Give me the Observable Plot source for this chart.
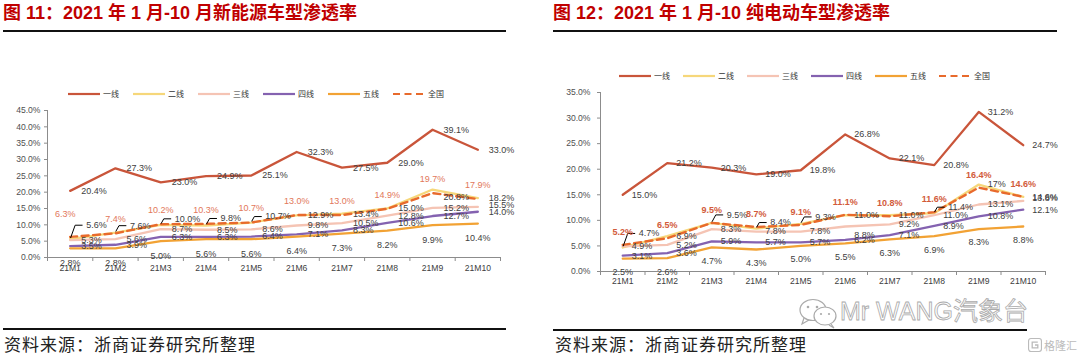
<!DOCTYPE html>
<html><head><meta charset="utf-8">
<script src="https://cdn.jsdelivr.net/npm/d3@7"></script>
<script src="https://cdn.jsdelivr.net/npm/@observablehq/plot@0.6"></script>
<style>
html,body{margin:0;padding:0;background:#fff}
body{width:1080px;height:359px;position:relative;overflow:hidden;font-family:"Liberation Sans","Noto Sans CJK SC",sans-serif}
.a{position:absolute;white-space:nowrap}
.title{font-family:"Liberation Sans","Noto Sans CJK SC",sans-serif;font-weight:bold;font-size:18px;color:#C00000;line-height:20px}
.rule{height:2px;background:#111}
.caption{font-family:"Noto Sans CJK SC",sans-serif;font-size:17px;color:#222;line-height:20px;letter-spacing:1px}
.leg{font-family:"Noto Sans CJK SC",sans-serif;font-size:8px;color:#333;display:flex;align-items:center;line-height:10px}
.leg svg{margin-right:3px}
.wm{font-family:"Liberation Sans","Noto Sans CJK SC",sans-serif;font-size:25px;color:rgba(255,255,255,0.5);-webkit-text-stroke:0.8px #aaa;line-height:30px}
.logo{font-family:"Noto Sans CJK SC",sans-serif;font-size:11px;color:#bbb;line-height:16px;display:flex;align-items:center}
</style></head><body>
<script>
// ---------- data ----------
const months = ["21M1","21M2","21M3","21M4","21M5","21M6","21M7","21M8","21M9","21M10"];
const tierNames = ["一线","二线","三线","四线","五线","全国"];
const tierColors = ["#C9553A","#F6D77A","#F5C4B4","#8462B0","#F2A234","#E86A2C"];
const yTicksNev = [0,5,10,15,20,25,30,35,40,45];
const yTicksBev = [0,5,10,15,20,25,30,35];

// 新能源车型渗透率 (%)
const nevTier1 = [20.4,27.3,23.0,24.9,25.1,32.3,27.5,29.0,39.1,33.0];
const nevTier2 = [5.6,7.6,10.0,9.8,10.7,12.9,13.4,15.0,20.8,18.2];
const nevTier3 = [5.3,5.6,8.7,8.5,8.6,9.8,10.5,12.8,15.2,15.5];
const nevTier4 = [3.5,3.9,6.3,6.3,6.4,7.1,8.3,10.6,12.7,14.0];
const nevTier5 = [2.8,2.8,5.0,5.6,5.6,6.4,7.3,8.2,9.9,10.4];
const nevNational = [6.3,7.4,10.2,10.3,10.7,13.0,13.0,14.9,19.7,17.9];

// 纯电动车型渗透率 (%)
const bevTier1 = [15.0,21.2,20.3,19.0,19.8,26.8,22.1,20.8,31.2,24.7];
const bevTier2 = [4.7,6.9,9.5,8.4,9.3,11.0,11.0,11.4,17,14.6];
const bevTier3 = [4.9,5.2,8.3,7.8,7.8,8.8,9.2,11.0,13.1,13.8];
const bevTier4 = [3.1,3.6,5.9,5.7,5.7,6.2,7.1,8.9,10.8,12.1];
const bevTier5 = [2.5,2.6,4.7,4.3,5.0,5.5,6.3,6.9,8.3,8.8];
const bevNational = [5.2,6.5,9.5,8.7,9.1,11.1,10.8,11.6,16.4,14.6];
const bevLabelText = [{s:1, i:8, text:"17%"}];

// ---------- layout / style ----------
const panels = [
  {
    left:0, title:"图 11：2021 年 1 月-10 月新能源车型渗透率", titleX:3, ruleW:503,
    legX:68, legStep:65, legY:94,
    top:100, height:180, mt:10, mb:23, ml:47, mr:40, yTicks:yTicksNev, yPad:4, xPad:7,
    series:[nevTier1,nevTier2,nevTier3,nevTier4,nevTier5,nevNational],
    natColor:"#E2775A", natWeight:"normal", rightDx:11, belowDy:14.5, aboveDy:-14,
    leaders:[{s:1,i:0,lift:14},{s:1,i:1,lift:7},{s:1,i:2,lift:6},{s:1,i:3,lift:7},{s:1,i:4,lift:6}],
    nudges:[{s:5,i:0,dx:-5,dy:-9},{s:1,i:8,dx:0,dy:8},{s:2,i:9,dx:0,dy:-2}],
    texts:[], bottomY:328, bottomW:503, captionX:4
  },
  {
    left:540, title:"图 12：2021 年 1 月-10 纯电动车型渗透率", titleX:13, ruleW:504,
    legX:79, legStep:64, legY:76,
    top:85, height:205, mt:7, mb:19, ml:60, mr:35, yTicks:yTicksBev, yPad:7, xPad:6,
    series:[bevTier1,bevTier2,bevTier3,bevTier4,bevTier5,bevNational],
    natColor:"#D25B3B", natWeight:"bold", rightDx:9, belowDy:13.5, aboveDy:-13,
    leaders:[{s:1,i:0,lift:14},{s:1,i:2,lift:8},{s:1,i:3,lift:6},{s:1,i:4,lift:7},{s:1,i:7,lift:6}],
    nudges:[{s:2,i:5,dx:0,dy:9},{s:2,i:9,dx:0,dy:-3}],
    texts:bevLabelText, bottomY:329, bottomW:474, captionX:15
  }
];

const fmt = v => v.toFixed(1) + "%";

function add(cls, css, html) {
  const d = document.createElement("div");
  d.className = "a " + cls;
  for (const k in css) d.style[k] = css[k];
  if (html != null) d.innerHTML = html;
  document.body.appendChild(d);
  return d;
}

function drawPanel(p) {
  add("title", {left:(p.left+p.titleX)+"px", top:"3px"}, p.title);
  add("rule", {left:(p.left+p.titleX)+"px", top:"30px", width:p.ruleW+"px"});
  tierNames.forEach((name,k) => {
    const dash = k === 5 ? 'stroke-dasharray="7,4.5"' : '';
    add("leg", {left:(p.left+p.legX+k*p.legStep)+"px", top:(p.legY-5)+"px"},
      `<svg width="32" height="4"><line x1="0" y1="2" x2="32" y2="2" stroke="${tierColors[k]}" stroke-width="2.2" ${dash}/></svg>${name}`);
  });

  const W = 540, H = p.height;
  const plotW = W - p.ml - p.mr, plotH = H - p.mt - p.mb;
  const ymax = p.yTicks[p.yTicks.length-1];
  const ux = 10 / plotW, uy = ymax / plotH;

  const marks = [];
  // axes
  marks.push(Plot.ruleX([-0.5], {y1:0, y2:ymax, stroke:"#8c8c8c", strokeWidth:1}));
  marks.push(Plot.ruleY([0], {x1:-0.5, x2:9.5, stroke:"#8c8c8c", strokeWidth:1}));
  marks.push(Plot.axisY({ticks:p.yTicks, tickFormat:d=>d.toFixed(1)+"%", tickSize:3, tickPadding:p.yPad, stroke:"#8c8c8c", fill:"#505050", fontSize:8.6, label:null}));
  marks.push(Plot.axisX({ticks:d3.range(-0.5,10,1), tickFormat:()=>"", tickSize:4, stroke:"#8c8c8c", label:null}));
  marks.push(Plot.axisX({ticks:d3.range(0,10), tickFormat:i=>months[i], tickSize:0, tickPadding:p.xPad, fill:"#404040", fontSize:8.6, label:null}));

  // lines
  p.series.forEach((vals,s) => {
    const rows = vals.map((v,i)=>({i,v}));
    marks.push(Plot.line(rows, {x:"i", y:"v", stroke:tierColors[s], strokeWidth: s===5 ? 2.4 : 2.3,
      strokeDasharray: s===5 ? "7,4.5" : null, strokeLinejoin:"round"}));
  });

  // leader lines
  const leaderPts = [];
  p.leaders.forEach((L,k) => {
    const v = p.series[L.s][L.i];
    const cx = Math.min(5, L.lift*0.5);
    leaderPts.push({id:k, x:L.i + 0.5*ux, y:v + 1.5*uy});
    leaderPts.push({id:k, x:L.i + cx*ux, y:v + L.lift*uy});
    leaderPts.push({id:k, x:L.i + (cx+7)*ux, y:v + L.lift*uy});
  });
  marks.push(Plot.line(leaderPts, {x:"x", y:"y", z:"id", stroke:"#000", strokeWidth:1}));

  // labels
  p.series.forEach((vals,s) => {
    const rows = vals.map((v,i) => {
      let dx = 0, dy = 0;
      const nd = p.nudges.find(n=>n.s===s && n.i===i);
      if (nd) { dx += nd.dx; dy += nd.dy; }
      const ld = p.leaders.find(n=>n.s===s && n.i===i);
      if (ld) { dx += Math.min(5, ld.lift*0.5) + 11 - p.rightDx; dy -= ld.lift; }
      const ov = p.texts.find(n=>n.s===s && n.i===i);
      return {x:i + dx*ux, y:v - dy*uy, t: ov ? ov.text : fmt(v)};
    });
    let opt;
    if (s === 4) opt = {textAnchor:"middle", dy:p.belowDy, fill:"#404040"};
    else if (s === 5) opt = {textAnchor:"middle", dy:p.aboveDy, fill:p.natColor, fontWeight:p.natWeight};
    else opt = {textAnchor:"start", dx:p.rightDx, fill:"#404040"};
    marks.push(Plot.text(rows, {x:"x", y:"y", text:"t", lineAnchor:"middle", fontSize:9, ...opt}));
  });

  const chart = Plot.plot({
    width:W, height:H, marginTop:p.mt, marginBottom:p.mb, marginLeft:p.ml, marginRight:p.mr,
    x:{domain:[-0.5,9.5], axis:null},
    y:{domain:[0,ymax], axis:null},
    style:{fontFamily:"Liberation Sans, Arial, sans-serif", fontSize:"9px", background:"transparent", overflow:"visible"},
    marks
  });
  const holder = add("", {left:p.left+"px", top:p.top+"px", width:W+"px", height:H+"px"});
  holder.appendChild(chart);

  add("rule", {left:(p.left+p.titleX)+"px", top:p.bottomY+"px", width:p.bottomW+"px"});
  add("caption", {left:(p.left+p.captionX)+"px", top:"334px"}, "资料来源：浙商证券研究所整理");
}

panels.forEach(drawPanel);

// watermark
add("", {left:"798px", top:"297px"},
  `<svg width="42" height="32" viewBox="0 0 42 32"><ellipse cx="15" cy="13" rx="13" ry="10.5" fill="none" stroke="#aaa" stroke-width="1.2"/><path d="M6 21 L4 27 L11 23" fill="none" stroke="#aaa" stroke-width="1.2"/><ellipse cx="27" cy="19" rx="11" ry="9" fill="#fff" stroke="#aaa" stroke-width="1.2"/><path d="M33 27 L36 31 L31 28" fill="none" stroke="#aaa" stroke-width="1.2"/><circle cx="10" cy="10" r="1.3" fill="#aaa"/><circle cx="19" cy="10" r="1.3" fill="#aaa"/><circle cx="23" cy="17" r="1.1" fill="#aaa"/><circle cx="31" cy="17" r="1.1" fill="#aaa"/></svg>`);
add("wm", {left:"840px", top:"296px"}, "Mr WANG汽象台");
add("logo", {left:"1028px", top:"337px"},
  `<svg width="14" height="14" viewBox="0 0 15 15"><rect x="0.6" y="0.6" width="13.8" height="13.8" rx="2.5" fill="none" stroke="#bbb" stroke-width="1.2"/><path d="M10.5 4.5 H4.5 V10.5 H10.5 V7.5 H7.5" fill="none" stroke="#bbb" stroke-width="1.4"/></svg><span style="margin-left:2px">格隆汇</span>`);
</script>
</body></html>
